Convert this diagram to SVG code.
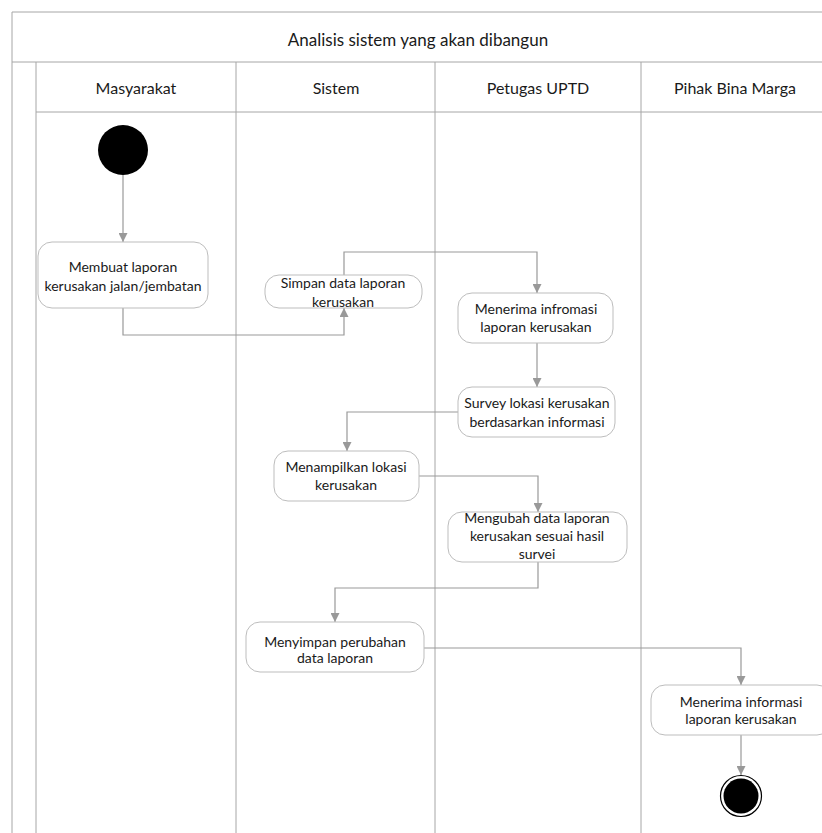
<svg xmlns="http://www.w3.org/2000/svg" width="822" height="833" viewBox="0 0 822 833">
<style>
.lane{stroke:#a6a6a6;stroke-width:1;fill:none}
.node rect{fill:#fff;stroke:#bdbdbd;stroke-width:1}
text{font-family:Lato,"Open Sans","Liberation Sans",sans-serif;fill:#1a1a1a;text-anchor:middle}
.t{font-size:14px}
.h{font-size:16px}
.ti{font-size:17px}
.c{stroke:#999;stroke-width:1.2;fill:none;marker-end:url(#ar)}
</style>
<defs>
<marker id="ar" viewBox="0 0 10 10" refX="10" refY="5" markerWidth="9" markerHeight="9" markerUnits="userSpaceOnUse" orient="auto">
<path d="M0,0 L10,5 L0,10 z" fill="#999"/>
</marker>
</defs>
<rect width="822" height="833" fill="#fff"/>
<g id="pool">
<path class="lane" d="M12,833 V12 H822 M12,62 H822 M36,112 H822 M36,62 V833 M236,62 V833 M435,62 V833 M641,62 V833"/>
<text class="ti" x="418" y="46">Analisis sistem yang akan dibangun</text>
<text class="h" x="136" y="94">Masyarakat</text>
<text class="h" x="336" y="94">Sistem</text>
<text class="h" x="538" y="94">Petugas UPTD</text>
<text class="h" x="735" y="94">Pihak Bina Marga</text>
</g>
<g id="connectors">
<path class="c" d="M123,175 V242"/>
<path class="c" d="M123,308 V335 H344 V308"/>
<path class="c" d="M344,275 V252 H537 V293"/>
<path class="c" d="M537,343 V387"/>
<path class="c" d="M458,412 H347 V451"/>
<path class="c" d="M419,476 H538 V512"/>
<path class="c" d="M538,562 V588 H335 V622"/>
<path class="c" d="M424,648 H741 V685"/>
<path class="c" d="M741,735 V775"/>
</g>
<g id="start"><circle cx="123" cy="150" r="25" fill="#000"/></g>
<g id="n1" class="node"><rect x="38" y="242" width="170" height="66" rx="14"/>
<text class="t" x="123" y="272">Membuat laporan</text><text class="t" x="123" y="291">kerusakan jalan/jembatan</text></g>
<g id="n2" class="node"><rect x="265" y="275" width="157" height="33" rx="14"/>
<text class="t" x="343" y="288">Simpan data laporan</text><text class="t" x="343" y="307">kerusakan</text></g>
<g id="n3" class="node"><rect x="458" y="293" width="155" height="50" rx="14"/>
<text class="t" x="536" y="314">Menerima infromasi</text><text class="t" x="536" y="332">laporan kerusakan</text></g>
<g id="n4" class="node"><rect x="458" y="387" width="157" height="50" rx="14"/>
<text class="t" x="537" y="408">Survey lokasi kerusakan</text><text class="t" x="537" y="427">berdasarkan informasi</text></g>
<g id="n5" class="node"><rect x="274" y="451" width="145" height="50" rx="14"/>
<text class="t" x="346" y="472">Menampilkan lokasi</text><text class="t" x="346" y="490">kerusakan</text></g>
<g id="n6" class="node"><rect x="448" y="512" width="179" height="50" rx="14"/>
<text class="t" x="537" y="523">Mengubah data laporan</text><text class="t" x="537" y="541">kerusakan sesuai hasil</text><text class="t" x="537" y="559">survei</text></g>
<g id="n7" class="node"><rect x="246" y="622" width="178" height="50" rx="14"/>
<text class="t" x="335" y="647">Menyimpan perubahan</text><text class="t" x="335" y="663">data laporan</text></g>
<g id="n8" class="node"><rect x="651" y="685" width="180" height="50" rx="14"/>
<text class="t" x="741" y="707">Menerima informasi</text><text class="t" x="741" y="724">laporan kerusakan</text></g>
<g id="end"><circle cx="741" cy="796" r="20.5" fill="#fff" stroke="#000" stroke-width="1.2"/><circle cx="741" cy="796" r="17.5" fill="#000"/></g>
</svg>
